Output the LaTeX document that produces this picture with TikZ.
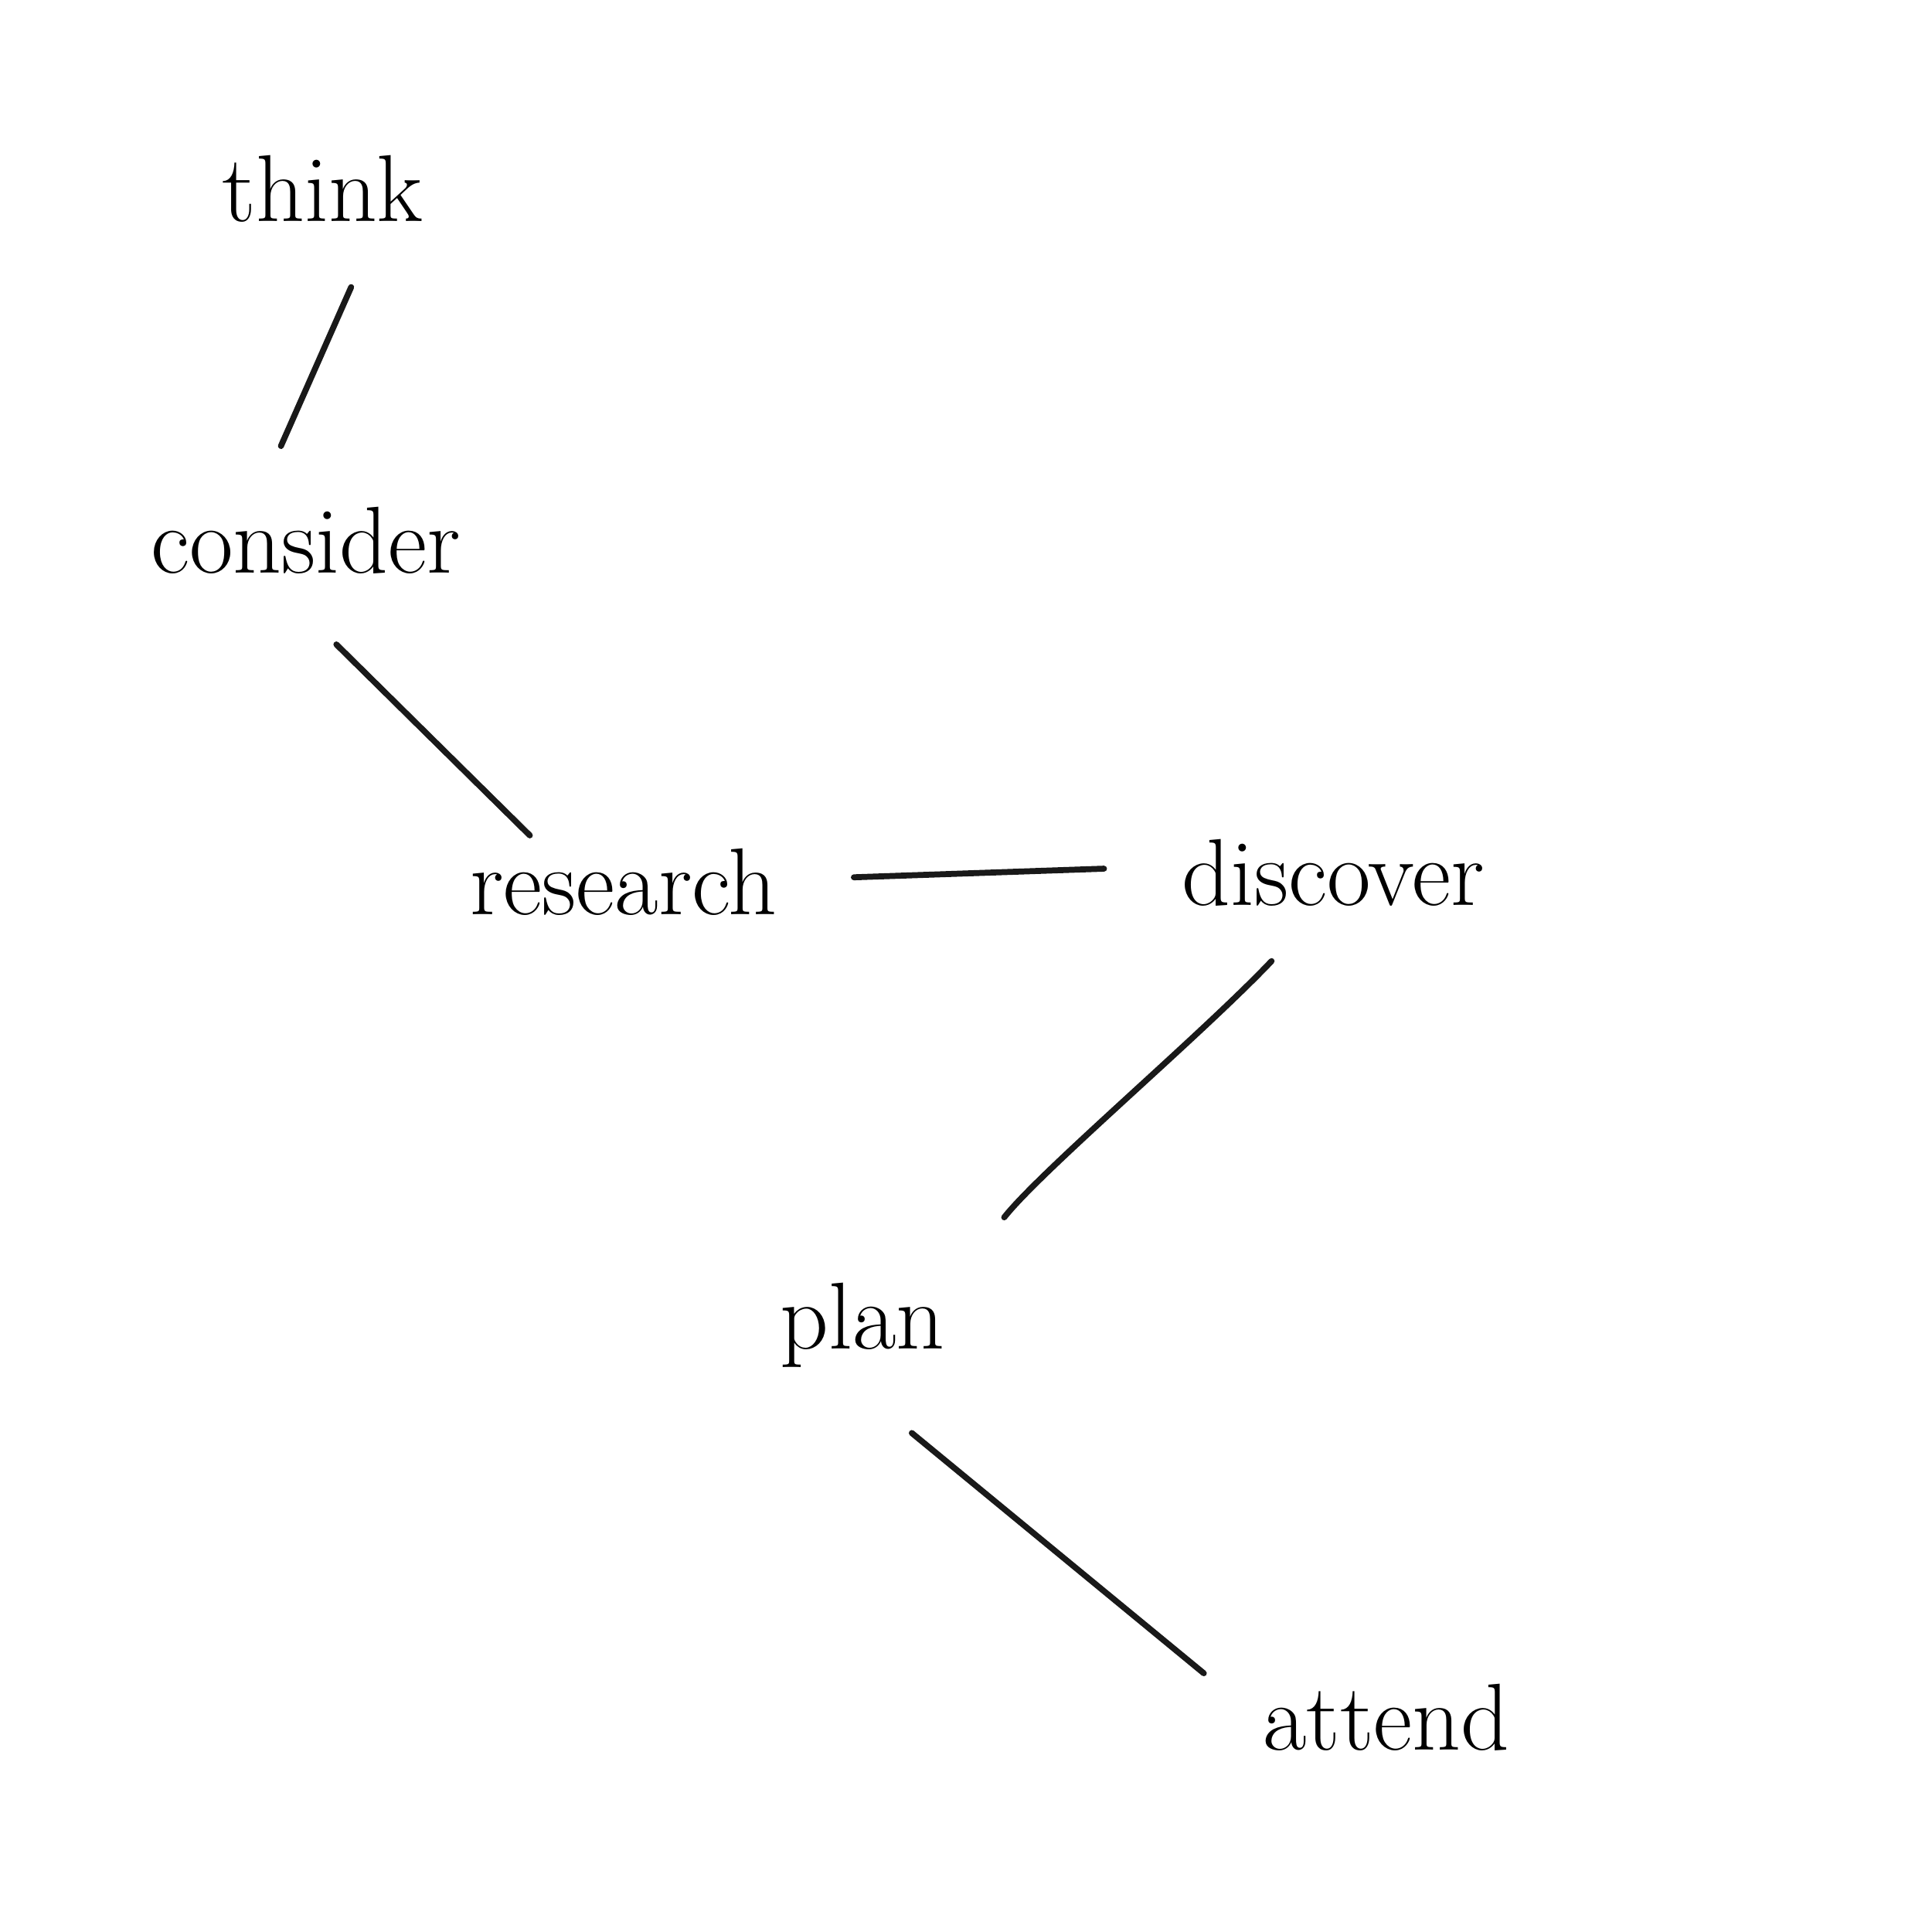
\documentclass[tikz,border=0pt]{standalone}
\usetikzlibrary{calc}
\begin{document}
\begin{tikzpicture}[x=0.01594cm,y=-0.01594cm,
  word/.style={anchor=base,inner sep=0pt,font=\fontsize{35}{42}\selectfont},
  link/.style={line width=2.2pt,line cap=round,black!90}]
\useasboundingbox (0,0) rectangle (1568,1568);
\fill[white] (0,0) rectangle (1568,1568);
\node[word] (think) at (262,180) {think};
\node[word] (consider) at (248,465) {consider};
\node[word] (research) at (506,742) {research};
\node[word] (discover) at (1082,735) {discover};
\node[word] (plan) at (700,1095) {plan};
\node[word] (attend) at (1125,1420) {attend};
\draw[link] ($(think.base)+(23,53)$) -- ($(consider.base)+(-20,-103)$);
\draw[link] ($(consider.base)+(25,58)$) -- ($(research.base)+(-76,-64)$);
\draw[link] ($(research.base)+(187,-30)$) -- ($(discover.base)+(-186,-30)$);
\draw[link] ($(discover.base)+(-50,45)$) .. controls (975,840) and (845,950) .. ($(plan.base)+(115,-107)$);
\draw[link] ($(plan.base)+(40,68)$) -- ($(attend.base)+(-148,-62)$);
\end{tikzpicture}
\end{document}
